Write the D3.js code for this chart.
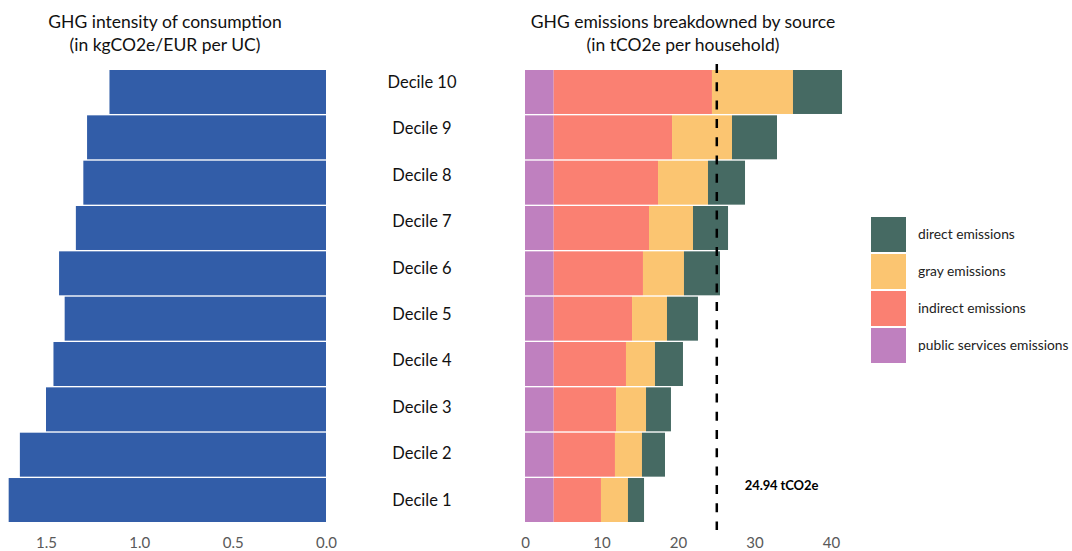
<!DOCTYPE html>
<html>
<head>
<meta charset="utf-8">
<script src="https://cdn.jsdelivr.net/npm/d3@7"></script>
<style>
  html, body { margin: 0; padding: 0; background: #fff; }
  svg { display: block; font-family: Lato, "Open Sans", sans-serif; }
</style>
</head>
<body>
<svg id="chart" width="1072" height="551"></svg>
<script>
// ---- data ----
const deciles = ["Decile 1","Decile 2","Decile 3","Decile 4","Decile 5","Decile 6","Decile 7","Decile 8","Decile 9","Decile 10"];
const intensity = [1.70, 1.64, 1.50, 1.46, 1.40, 1.43, 1.34, 1.30, 1.28, 1.16];
const publicEm   = [3.75, 3.75, 3.75, 3.75, 3.75, 3.75, 3.75, 3.75, 3.75, 3.75];
const indirectEm = [6.18, 8.01, 8.15, 9.45, 10.24, 11.67, 12.46, 13.64, 15.47, 20.69];
const grayEm     = [3.53, 3.53, 3.92, 3.79, 4.57, 5.36, 5.75, 6.53, 7.84, 10.59];
const directEm   = [2.10, 3.01, 3.26, 3.66, 4.05, 4.71, 4.58, 4.84, 5.88, 6.41];
const seriesKeys = ["public", "indirect", "gray", "direct"];
const seriesLabels = ["public services emissions", "indirect emissions", "gray emissions", "direct emissions"];
const seriesColors = ["#bf80bf", "#fa8072", "#fbc571", "#466a63"];
const leftTicks = [1.5, 1.0, 0.5, 0.0];
const rightTicks = [0, 10, 20, 30, 40];
const averageValue = 24.94;
const averageLabel = "24.94 tCO2e";

// ---- setup ----
const svg = d3.select("#chart");
const rows = deciles.map((d, i) => ({
  decile: d, intensity: intensity[i],
  public: publicEm[i], indirect: indirectEm[i], gray: grayEm[i], direct: directEm[i]
}));

const y = d3.scaleBand()
  .domain(deciles.slice().reverse())
  .range([70, 522])
  .paddingInner(0.03)
  .paddingOuter(0);

// label positions (the category labels sit on their own evenly spaced scale)
const yLabel = d3.scalePoint().domain(deciles).range([500, 82]);

const xLeft = d3.scaleLinear().domain([0, 1.5]).range([326, 46]);
const xRight = d3.scaleLinear().domain([0, 40]).range([525, 831]);

// titles
const titleFont = 17.5;
function title(x, lines) {
  const t = svg.append("text").attr("text-anchor", "middle")
    .attr("font-size", titleFont).attr("fill", "#111");
  lines.forEach((l, i) => t.append("tspan").attr("x", x).attr("y", 28 + i * 23).text(l));
}
title(165, ["GHG intensity of consumption", "(in kgCO2e/EUR per UC)"]);
title(683, ["GHG emissions breakdowned by source", "(in tCO2e per household)"]);

// left bars
svg.append("g").selectAll("rect").data(rows).join("rect")
  .attr("x", d => xLeft(d.intensity))
  .attr("y", d => y(d.decile))
  .attr("width", d => xLeft(0) - xLeft(d.intensity))
  .attr("height", y.bandwidth())
  .attr("fill", "#325da8");

// decile labels
svg.append("g").selectAll("text").data(rows).join("text")
  .attr("x", 422)
  .attr("y", d => yLabel(d.decile))
  .attr("dy", "0.35em")
  .attr("text-anchor", "middle")
  .attr("font-size", 16.5)
  .attr("fill", "#111")
  .text(d => d.decile);

// stacked bars
const stack = d3.stack().keys(seriesKeys)(rows);
const color = d3.scaleOrdinal().domain(seriesKeys).range(seriesColors);
svg.append("g").selectAll("g").data(stack).join("g")
  .attr("fill", s => color(s.key))
  .selectAll("rect").data(s => s).join("rect")
  .attr("x", d => xRight(d[0]))
  .attr("y", d => y(d.data.decile))
  .attr("width", d => xRight(d[1]) - xRight(d[0]))
  .attr("height", y.bandwidth());

// axes
function styleAxis(g) {
  g.select(".domain").remove();
  g.selectAll(".tick line").remove();
  g.selectAll(".tick text").attr("font-size", 15).attr("fill", "#595959")
    .attr("font-family", "Lato, 'Open Sans', sans-serif");
}
svg.append("g").attr("transform", "translate(0,527)")
  .call(d3.axisBottom(xLeft).tickValues(leftTicks).tickFormat(d3.format(".1f")).tickSize(0).tickPadding(10))
  .call(styleAxis);
svg.append("g").attr("transform", "translate(0,527)")
  .call(d3.axisBottom(xRight).tickValues(rightTicks).tickFormat(d3.format("d")).tickSize(0).tickPadding(10))
  .call(styleAxis);

// average dashed line
svg.append("line")
  .attr("x1", xRight(averageValue) + 1).attr("x2", xRight(averageValue) + 1)
  .attr("y1", 64).attr("y2", 530)
  .attr("stroke", "#000").attr("stroke-width", 2.5)
  .attr("stroke-dasharray", "9,9.3");
svg.append("text")
  .attr("x", xRight(averageValue) + 29).attr("y", 490)
  .attr("font-size", 13).attr("font-weight", "bold").attr("fill", "#000")
  .attr("letter-spacing", -0.1)
  .text(averageLabel);

// legend
const legendOrder = [3, 2, 1, 0];
const lg = svg.append("g");
legendOrder.forEach((k, i) => {
  lg.append("rect").attr("x", 871).attr("y", 217 + i * 37)
    .attr("width", 35).attr("height", 35).attr("fill", seriesColors[k]);
  lg.append("text").attr("x", 918).attr("y", 217 + i * 37 + 17.5)
    .attr("dy", "0.35em").attr("font-size", 13.8).attr("fill", "#222")
    .text(seriesLabels[k]);
});
</script>
</body>
</html>
